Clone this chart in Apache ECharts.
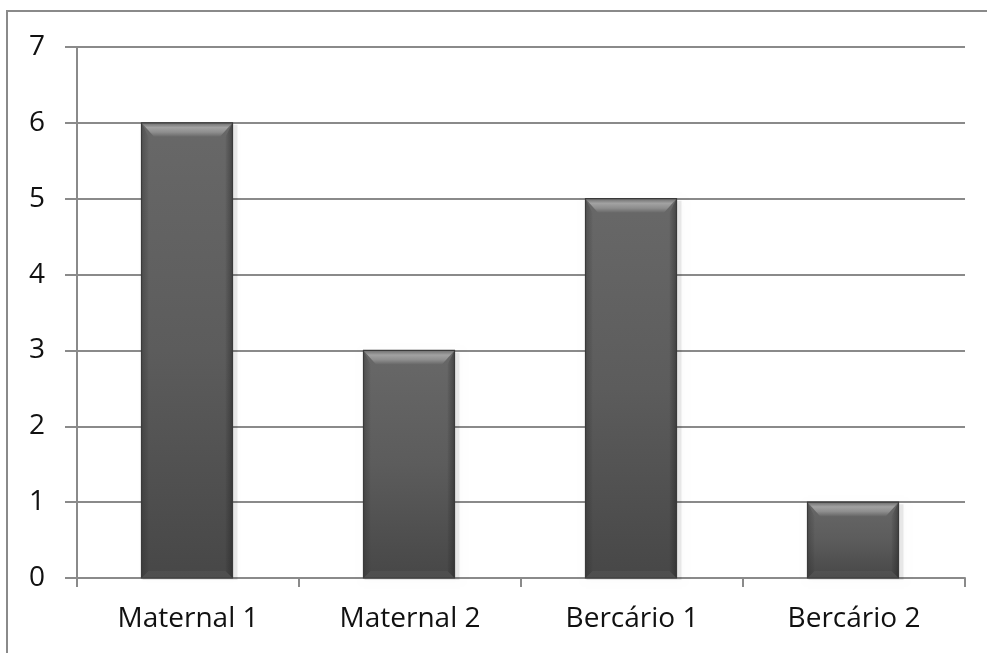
<!DOCTYPE html>
<html>
<head>
<meta charset="utf-8">
<script src="https://cdn.jsdelivr.net/npm/echarts@6/dist/echarts.min.js"></script>
<style>
  html, body { margin: 0; padding: 0; background: #fff; }
  #chart { width: 987px; height: 653px; }
</style>
</head>
<body>
<div id="chart"></div>
<script>
// Groups and their counts
const categories = ['Maternal 1', 'Maternal 2', 'Bercário 1', 'Bercário 2'];
const values = [6, 3, 5, 1];
const yTicks = { min: 0, max: 7, interval: 1 };

const gridColor = '#8a8a8a';
const fontFamily = 'Open Sans';

const chart = echarts.init(document.getElementById('chart'));

// Bevelled bar drawn from the axis scales
function renderBar(params, api) {
  const idx = api.value(0);
  const val = api.value(1);
  const top = api.coord([idx, val]);
  const base = api.coord([idx, 0]);
  const bw = api.size([1, 0])[0] * 0.41;
  const x0 = top[0] - bw / 2 - 1, x1 = x0 + bw;
  const y0 = top[1], y1 = base[1];
  const bt = Math.min(14, (y1 - y0) / 3);
  const bs = 7;
  const grad = (x0_, y0_, x1_, y1_, stops) =>
    new echarts.graphic.LinearGradient(x0_, y0_, x1_, y1_, stops.map((c, i) => ({ offset: i / (stops.length - 1), color: c })));
  return {
    type: 'group',
    children: [
      // soft drop shadow
      { type: 'rect', shape: { x: x0 + 1, y: y0 + 2, width: bw + 4, height: y1 - y0 },
        style: { fill: 'rgba(0,0,0,0.08)', shadowBlur: 6, shadowColor: 'rgba(0,0,0,0.25)' } },
      // body
      { type: 'rect', shape: { x: x0, y: y0, width: bw, height: y1 - y0 },
        style: { fill: grad(0, 0, 0, 1, ['#686868', '#5c5c5c', '#474747']) } },
      // left and right edges
      { type: 'polygon', shape: { points: [[x0, y0], [x0 + bs, y0 + bt], [x0 + bs, y1 - bs], [x0, y1]] },
        style: { fill: grad(0, 0, 1, 0, ['rgba(40,40,40,0.35)', 'rgba(40,40,40,0.05)']) } },
      { type: 'polygon', shape: { points: [[x1, y0], [x1 - bs, y0 + bt], [x1 - bs, y1 - bs], [x1, y1]] },
        style: { fill: grad(1, 0, 0, 0, ['rgba(30,30,30,0.45)', 'rgba(30,30,30,0.05)']) } },
      // bottom edge
      { type: 'polygon', shape: { points: [[x0, y1], [x1, y1], [x1 - bs, y1 - bs], [x0 + bs, y1 - bs]] },
        style: { fill: 'rgba(255,255,255,0.04)' } },
      // top highlight bevel
      { type: 'polygon', shape: { points: [[x0, y0], [x1, y0], [x1 - bs * 1.8, y0 + bt], [x0 + bs * 1.8, y0 + bt]] },
        style: { fill: grad(0, 0, 0, 1, ['#6e6e6e', '#a2a2a2', '#8e8e8e', '#686868']) } },
      // outline
      { type: 'rect', shape: { x: x0, y: y0, width: bw, height: y1 - y0 },
        style: { fill: 'none', stroke: '#3a3a3a', lineWidth: 1.2 } }
    ]
  };
}

chart.setOption({
  animation: false,
  backgroundColor: '#ffffff',
  graphic: [{
    type: 'rect', silent: true, z: -1,
    shape: { x: 7, y: 11, width: 1000, height: 700 },
    style: { fill: 'none', stroke: gridColor, lineWidth: 2 }
  }],
  grid: { left: 77, right: 22, top: 47, bottom: 75, containLabel: false },
  xAxis: {
    type: 'category',
    data: categories,
    boundaryGap: true,
    axisLine: { lineStyle: { color: gridColor, width: 2 } },
    axisTick: { show: true, length: 9, alignWithLabel: false, lineStyle: { color: gridColor, width: 2 } },
    axisLabel: { color: '#111', fontSize: 28, fontFamily: fontFamily, margin: 27 },
    splitLine: { show: false }
  },
  yAxis: {
    type: 'value',
    min: yTicks.min, max: yTicks.max, interval: yTicks.interval,
    axisLine: { show: true, lineStyle: { color: gridColor, width: 2 } },
    axisTick: { show: true, length: 12, lineStyle: { color: gridColor, width: 2 } },
    axisLabel: { color: '#111', fontSize: 28, fontFamily: fontFamily, margin: 32 },
    splitLine: { show: true, lineStyle: { color: gridColor, width: 2 } }
  },
  series: [{
    type: 'custom',
    renderItem: renderBar,
    encode: { x: 0, y: 1 },
    data: values.map((v, i) => [i, v]),
    z: 3
  }]
});
</script>
</body>
</html>
